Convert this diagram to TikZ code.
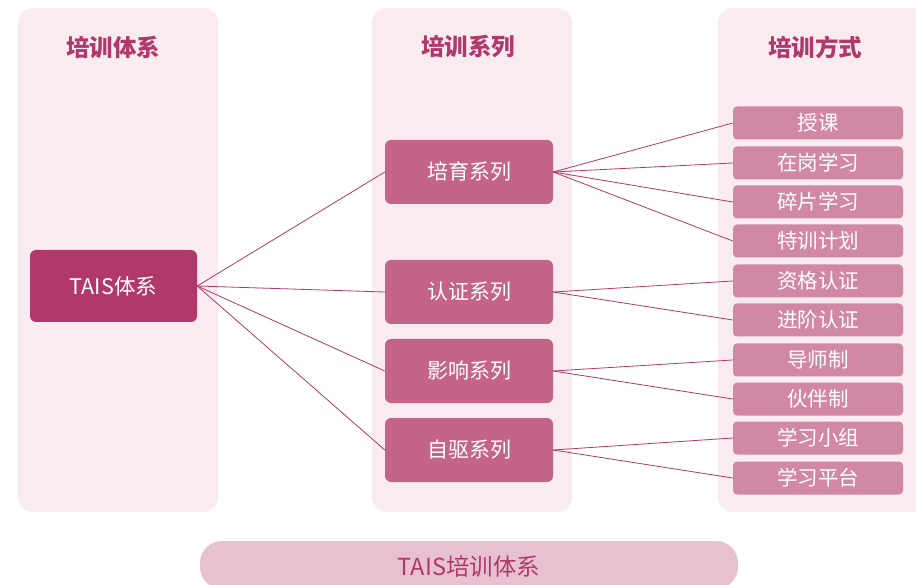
\documentclass[tikz,border=0pt]{standalone}
\usepackage{fontspec}
\newfontfamily\cjk{Noto Sans CJK SC}
\usepackage{xcolor}
\usetikzlibrary{positioning}
\definecolor{taisdeep}{HTML}{B0386A}
\definecolor{taismid}{HTML}{C46489}
\definecolor{taislight}{HTML}{D088A5}
\definecolor{taispanel}{HTML}{F8ECF1}
\definecolor{taispill}{HTML}{E8C1D1}

\begin{document}
\begin{tikzpicture}[
  x=1pt, y=-1pt,
  every node/.style={font=\cjk},
  panel/.style={fill=taispanel, rounded corners=15pt},
  head/.style={font=\cjk\bfseries\fontsize{23.5}{26}\selectfont, text=taisdeep},
  root/.style={fill=taisdeep, text=white, rounded corners=6pt, minimum width=167pt, minimum height=72pt, font=\cjk\fontsize{21.5}{24}\selectfont},
  series/.style={fill=taismid, text=white, rounded corners=6pt, minimum width=168pt, minimum height=64pt, font=\cjk\fontsize{21}{24}\selectfont},
  way/.style={fill=taislight, text=white, rounded corners=4pt, minimum width=170pt, minimum height=33pt, inner sep=0pt, font=\cjk\fontsize{20.5}{23}\selectfont},
  link/.style={draw=taisdeep, line width=0.8pt}
]
  \clip (0,0) rectangle (916,585);

  % Spalten
  \fill[panel] (18,8) rectangle (218,512);
  \fill[panel] (372,8) rectangle (572,512);
  \fill[panel] (718,8) rectangle (930,512);

  \node[head] (h1) at (113,47) {培训体系};
  \node[head] (h2) at (468,47) {培训系列};
  \node[head] (h3) at (815,47) {培训方式};

  % Wurzel
  \node[root] (tais) at (113.5,286) {TAIS体系};

  % Reihen (4)
  \node[series] (pei) at (469,172) {培育系列};
  \node[series] (ren) at (469,292) {认证系列};
  \node[series] (ying) at (469,371) {影响系列};
  \node[series] (zi) at (469,450) {自驱系列};

  % Methoden (10)
  \node[way] (w1) at (818,123) {授课};
  \node[way] (w2) at (818,163) {在岗学习};
  \node[way] (w3) at (818,202) {碎片学习};
  \node[way] (w4) at (818,241) {特训计划};
  \node[way] (w5) at (818,281) {资格认证};
  \node[way] (w6) at (818,320) {进阶认证};
  \node[way] (w7) at (818,360) {导师制};
  \node[way] (w8) at (818,399) {伙伴制};
  \node[way] (w9) at (818,438) {学习小组};
  \node[way] (w10) at (818,478) {学习平台};

  \draw[link] (tais.east) -- (pei.west);
  \draw[link] (tais.east) -- (ren.west);
  \draw[link] (tais.east) -- (ying.west);
  \draw[link] (tais.east) -- (zi.west);

  \draw[link] (pei.east) -- (w1.west);
  \draw[link] (pei.east) -- (w2.west);
  \draw[link] (pei.east) -- (w3.west);
  \draw[link] (pei.east) -- (w4.west);
  \draw[link] (ren.east) -- (w5.west);
  \draw[link] (ren.east) -- (w6.west);
  \draw[link] (ying.east) -- (w7.west);
  \draw[link] (ying.east) -- (w8.west);
  \draw[link] (zi.east) -- (w9.west);
  \draw[link] (zi.east) -- (w10.west);

  % Unten
  \fill[taispill, rounded corners=22pt] (200,541) rectangle (738,589);
  \node[font=\cjk\fontsize{23.5}{26}\selectfont, text=taisdeep] (foot) at (469,566) {TAIS培训体系};
\end{tikzpicture}
\end{document}
